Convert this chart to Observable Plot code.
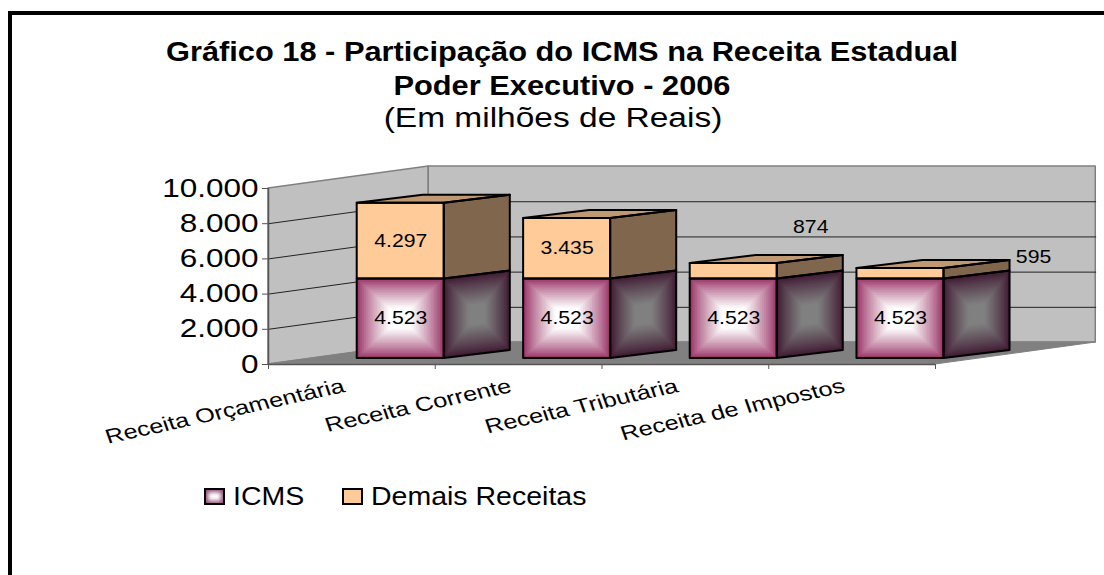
<!DOCTYPE html>
<html lang="pt-BR">
<head>
<meta charset="utf-8">
<script src="https://cdn.jsdelivr.net/npm/d3@7"></script>
<script src="https://cdn.jsdelivr.net/npm/@observablehq/plot@0.6"></script>
<style>
  html, body { margin: 0; padding: 0; background: #fff; width: 1104px; height: 575px; overflow: hidden; }
  body { position: relative; font-family: "Liberation Sans", Arial, sans-serif; color: #000; }
  #frame { position: absolute; left: 8px; top: 11px; width: 1100px; height: 570px; border: 4px solid #000; box-sizing: border-box; }
  .line { position: absolute; white-space: nowrap; transform-origin: center; line-height: 1; }
  #t1 { left: 0; width: 1124px; top: 39px; text-align: center; font-weight: bold; font-size: 27px; transform: scaleX(1.14); }
  #t2 { left: 0; width: 1124px; top: 73px; text-align: center; font-weight: bold; font-size: 27px; transform: scaleX(1.14); }
  #t3 { left: 0; width: 1106px; top: 105px; text-align: center; font-size: 27px; transform: scaleX(1.24); }
  #chart { position: absolute; left: 0; top: 150px; }
  #legend span { position: absolute; }
  .swatch { width: 17px; height: 13px; border: 2px solid #000; }
  #sw1 { left: 204px; top: 488px; background: #fff; box-shadow: inset 0 0 4px 2px #8d4a72; }
  #sw2 { left: 342px; top: 488px; background: #ffcc99; }
  .ltext { font-size: 25px; line-height: 1; transform-origin: left center; transform: scaleX(1.14); white-space: nowrap; }
  #l1 { left: 233px; top: 484px; }
  #l2 { left: 371px; top: 484px; }
</style>
</head>
<body>
<div id="frame"></div>
<div class="line" id="t1">Gráfico 18 - Participação do ICMS na Receita Estadual</div>
<div class="line" id="t2">Poder Executivo - 2006</div>
<div class="line" id="t3">(Em milhões de Reais)</div>
<div id="chart"></div>
<div id="legend">
  <span class="swatch" id="sw1"></span><span class="ltext" id="l1">ICMS</span>
  <span class="swatch" id="sw2"></span><span class="ltext" id="l2">Demais Receitas</span>
</div>
<script>
// Values
const categories = ["Receita Orçamentária", "Receita Corrente", "Receita Tributária", "Receita de Impostos"];
const icms = [4523, 4523, 4523, 4523];
const demais = [4297, 3435, 874, 595];
const yTicks = [0, 2000, 4000, 6000, 8000, 10000];
const xTicks = [0, 1, 2, 3, 4];

// Oblique projection (in data units: category steps and reais)
const wallDepthX = 0.961, wallDepthY = 1248;
const barStart = 0.532, barWidth = 0.522, barLift = 340;
const barDepthX = 0.396, barDepthY = 454;
const barStep = [0, 0.998, 1.997, 2.997];
// Where the two small labels sit relative to their bars
const labelShiftX = [0, 0, 0.462, 0.798];
const labelShiftY = [0, 0, 2496, 908];

const colors = {
  wall: "#c0c0c0", floor: "#808080", edge: "#808080", grid: "#222",
  icmsEdge: [153, 51, 102], icmsMid: [255, 255, 255],
  sideEdge: [64, 26, 51], sideMid: [128, 128, 128],
  demais: "#ffcc99", demaisSide: "#80664d", demaisTop: "#bf9973"
};
const maxC = xTicks[xTicks.length - 1];
const maxY = yTicks[yTicks.length - 1];
const fmt = d3.formatLocale({decimal: ",", thousands: ".", grouping: [3], currency: ["R$", ""]}).format(",");

const bars = categories.map((name, i) => {
  const x0 = barStart + barStep[i], x1 = x0 + barWidth;
  return {name, x0, x1, y0: barLift, y1: barLift + icms[i], y2: barLift + icms[i] + demais[i], i};
});

// A face as a two-column polygon: {x, y1, y2} at left and right.
const face = (id, x0, x1, lo0, hi0, lo1, hi1, fill) => [
  {id, x: x0, y1: lo0, y2: hi0, fill},
  {id, x: x1, y1: lo1, y2: hi1, fill}
];
const steps = d3.range(0, 24);
const ease = t => Math.min(1, 1.3 * Math.pow(t, 0.85));
const mix = (a, b, t) => `rgb(${a.map((v, k) => Math.round(v + (b[k] - v) * ease(t))).join(",")})`;

const gradientRows = [];
for (const b of bars) {
  for (const s of steps) {
    const t = s / steps.length, k = 1 - t;
    // front face
    const cx = (b.x0 + b.x1) / 2, cy = (b.y0 + b.y1) / 2;
    const hx = (b.x1 - b.x0) / 2 * k, hy = (b.y1 - b.y0) / 2 * k;
    gradientRows.push(...face(`f${b.i}-${s}`, cx - hx, cx + hx, cy - hy, cy + hy, cy - hy, cy + hy, mix(colors.icmsEdge, colors.icmsMid, t)));
    // side face
    const sx = b.x1 + barDepthX / 2, sy = cy + barDepthY / 2;
    const ax = barDepthX / 2 * k, ay = barDepthY / 2 * k;
    gradientRows.push(...face(`s${b.i}-${s}`, sx - ax, sx + ax, sy - ay - hy, sy - ay + hy, sy + ay - hy, sy + ay + hy, mix(colors.sideEdge, colors.sideMid, t)));
  }
}
const flatRows = [];
const outlineRows = [];
for (const b of bars) {
  const dx = barDepthX, dy = barDepthY;
  flatRows.push(...face(`df${b.i}`, b.x0, b.x1, b.y1, b.y2, b.y1, b.y2, colors.demais));
  flatRows.push(...face(`ds${b.i}`, b.x1, b.x1 + dx, b.y1, b.y2, b.y1 + dy, b.y2 + dy, colors.demaisSide));
  outlineRows.push(...face(`o1${b.i}`, b.x0, b.x1, b.y0, b.y1, b.y0, b.y1));
  outlineRows.push(...face(`o2${b.i}`, b.x1, b.x1 + dx, b.y0, b.y1, b.y0 + dy, b.y1 + dy));
  outlineRows.push(...face(`o3${b.i}`, b.x0, b.x1, b.y1, b.y2, b.y1, b.y2));
  outlineRows.push(...face(`o4${b.i}`, b.x1, b.x1 + dx, b.y1, b.y2, b.y1 + dy, b.y2 + dy));
}
const topRows = bars.flatMap(b => [
  {id: b.i, y: b.y2, x1: b.x0, x2: b.x1},
  {id: b.i, y: b.y2 + barDepthY, x1: b.x0 + barDepthX, x2: b.x1 + barDepthX}
]);

const wallRows = [
  ...face("left", 0, wallDepthX, 0, maxY, wallDepthY, maxY + wallDepthY),
  ...face("back", wallDepthX, maxC + wallDepthX, wallDepthY, maxY + wallDepthY, wallDepthY, maxY + wallDepthY)
];
const floorRows = [
  {y: 0, x1: 0, x2: maxC},
  {y: wallDepthY, x1: wallDepthX, x2: maxC + wallDepthX}
];
const gridRows = yTicks.filter(v => v > 0 && v < maxY).flatMap(v => [
  {v, x: 0, y: v},
  {v, x: wallDepthX, y: v + wallDepthY},
  {v, x: maxC + wallDepthX, y: v + wallDepthY}
]);

const valueLabels = [
  ...bars.map((b, i) => ({x: (b.x0 + b.x1) / 2, y: (b.y0 + b.y1) / 2, text: fmt(icms[i])})),
  ...bars.map((b, i) => ({x: (b.x0 + b.x1) / 2 + labelShiftX[i], y: (b.y1 + b.y2) / 2 + labelShiftY[i], text: fmt(demais[i])}))
];

const plot = Plot.plot({
  width: 1104,
  height: 320,
  marginLeft: 268,
  marginRight: 169,
  marginTop: 38,
  marginBottom: 106,
  x: {domain: [0, maxC]},
  y: {domain: [0, maxY]},
  color: {type: "identity"},
  style: {background: "transparent", fontFamily: "'Liberation Sans', Arial, sans-serif", color: "#000"},
  marks: [
    Plot.areaY(wallRows, {x: "x", y1: "y1", y2: "y2", z: "id", fill: colors.wall, stroke: colors.edge, strokeWidth: 1.5}),
    Plot.areaX(floorRows, {y: "y", x1: "x1", x2: "x2", fill: colors.floor, stroke: colors.edge}),
    Plot.line(gridRows, {x: "x", y: "y", z: "v", stroke: colors.grid, strokeWidth: 1}),
    Plot.ruleX([0], {stroke: "#555", strokeWidth: 1.5}),
    Plot.ruleY([0], {stroke: "#555", strokeWidth: 1.5}),
    Plot.axisY({ticks: yTicks, tickFormat: fmt, tickSize: 6, tickPadding: 4, fontSize: 25, label: null, stroke: "#555", fill: "#000"}),
    Plot.axisX({ticks: xTicks, tickSize: 5, label: null, stroke: "#555", fill: "none"}),
    Plot.text(categories, {x: (d, i) => i + 0.5, y: 0, text: d => d, textAnchor: "end", rotate: -15.5, fontSize: 20, dy: 21, dx: -8, fill: "#000"}),
    Plot.areaY(gradientRows, {x: "x", y1: "y1", y2: "y2", z: "id", fill: "fill"}),
    Plot.areaY(flatRows, {x: "x", y1: "y1", y2: "y2", z: "id", fill: "fill"}),
    Plot.areaX(topRows, {y: "y", x1: "x1", x2: "x2", z: "id", fill: colors.demaisTop, stroke: "#000", strokeWidth: 2}),
    Plot.areaY(outlineRows, {x: "x", y1: "y1", y2: "y2", z: "id", fill: "none", stroke: "#000", strokeWidth: 2}),
    Plot.text(valueLabels, {x: "x", y: "y", text: "text", fontSize: 18, fill: "#000"})
  ]
});

// The reference picture is stretched sideways; text gets the same stretch.
const stretchBySize = {25: 1.26, 20: 1.27, 18: 1.18};
plot.querySelectorAll("text").forEach(el => {
  const owner = el.closest("[font-size]");
  const size = owner ? +owner.getAttribute("font-size") : 0;
  const sx = stretchBySize[size] || 1;
  const t = el.getAttribute("transform");
  if (t && t.startsWith("translate")) {
    el.setAttribute("transform", t.replace(/^(translate\([^)]*\))/, `$1 scale(${sx},1)`));
  }
});
document.getElementById("chart").appendChild(plot);
</script>
</body>
</html>
